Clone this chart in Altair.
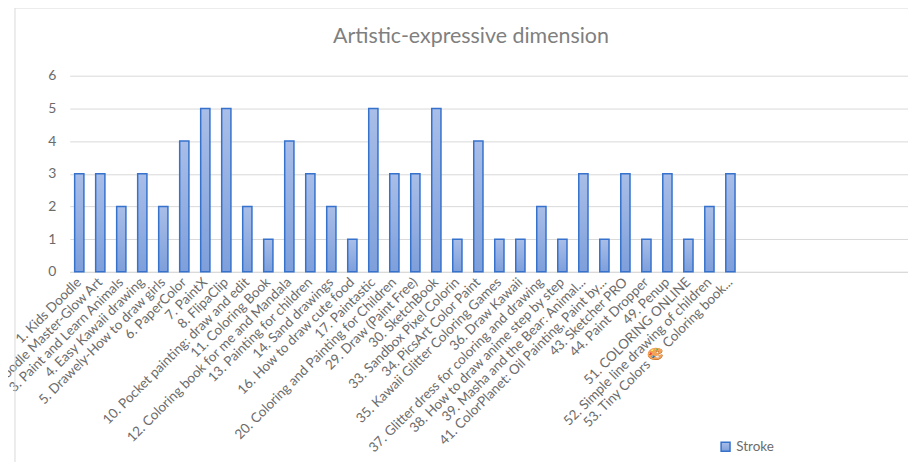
import altair as alt
import pandas as pd

apps = [
    "1. Kids Doodle",
    "2. Doodle Master-Glow Art",
    "3. Paint and Learn Animals",
    "4. Easy Kawaii drawing",
    "5. Drawely-How to draw girls",
    "6. PaperColor",
    "7. PaintX",
    "8. FlipaClip",
    "10. Pocket painting: draw and edit",
    "11. Coloring Book",
    "12. Coloring book for me and Mandala",
    "13. Painting for children",
    "14. Sand drawings",
    "16. How to draw cute food",
    "17. Paintastic",
    "20. Coloring and Painting for Children",
    "29. Draw (Paint Free)",
    "30. SketchBook",
    "33. Sandbox Pixel Colorin",
    "34. PicsArt Color Paint",
    "35. Kawaii Glitter Coloring Games",
    "36. Draw Kawaii",
    "37. Glitter dress for coloring and drawing",
    "38. How to draw anime step by step",
    "39. Masha and the Bear: Animal...",
    "41. ColorPlanet: Oil Painting, Paint by...",
    "43. Sketcher PRO",
    "44. Paint Dropper",
    "49. Penup",
    "51. COLORING ONLINE",
    "52. Simple line drawing of children",
    "53. Tiny Colors \U0001F3A8 Coloring book...",
]
stroke = [3, 3, 2, 3, 2, 4, 5, 5, 2, 1, 4, 3, 2, 1, 5, 3,
          3, 5, 1, 4, 1, 1, 2, 1, 3, 1, 3, 1, 3, 1, 2, 3]
series_name = "Stroke"
y_ticks = [0, 1, 2, 3, 4, 5, 6]

# empty category slots on the right of the category axis (as in the original)
empty_slots = [" " * (i + 1) for i in range(8)]

df = pd.DataFrame({"app": apps, "value": stroke, "series": series_name})

font = "Lato"
label_color = "#6b6b6b"

bar_fill = alt.Gradient(
    gradient="linear",
    stops=[alt.GradientStop(color="#a9bee8", offset=0),
           alt.GradientStop(color="#7e9fdb", offset=1)],
    x1=0, x2=0, y1=0, y2=1,
)

bars = alt.Chart(df).mark_bar(fill=bar_fill, strokeWidth=1.5).encode(
    x=alt.X(
        "app:N",
        sort=None,
        scale=alt.Scale(domain=apps + empty_slots, paddingInner=0.56, paddingOuter=0.235),
        axis=alt.Axis(
            title=None, labelAngle=-45, labelAlign="right", labelBaseline="middle",
            labelOverlap=False, labelLimit=500, ticks=False, labelPadding=8,
            domainColor="#d9d9d9", labelFont=font, labelFontSize=13.5,
            labelColor=label_color, grid=False,
        ),
    ),
    y=alt.Y(
        "value:Q",
        scale=alt.Scale(domain=[0, 6], nice=False),
        axis=alt.Axis(
            title=None, values=y_ticks, ticks=False, domain=False,
            gridColor="#d9d9d9", labelPadding=14, labelFont=font,
            labelFontSize=14, labelColor=label_color,
        ),
    ),
    stroke=alt.Stroke(
        "series:N",
        scale=alt.Scale(domain=[series_name], range=["#3672cc"]),
        legend=alt.Legend(
            title=None, orient="none", legendX=652, legendY=366,
            symbolType="square", symbolSize=80, symbolFillColor="#8eaadf",
            symbolStrokeWidth=1.5, labelFont=font, labelFontSize=13.5,
            labelColor=label_color, labelOffset=4, padding=0,
        ),
    ),
)

frame = alt.Data(values=[{}])
left_border = alt.Chart(frame).mark_rule(color="#d9d9d9", strokeWidth=1).encode(
    x=alt.value(-55), y=alt.value(-68), y2=alt.value(400)
)
top_border = alt.Chart(frame).mark_rule(color="#d9d9d9", strokeWidth=1).encode(
    x=alt.value(-55), x2=alt.value(860), y=alt.value(-68)
)

chart = alt.layer(left_border, top_border, bars).properties(
    width=842,
    height=197,
    autosize=alt.AutoSizeParams(type="none"),
    padding={"left": 62, "top": 67, "right": 0, "bottom": 190},
    title=alt.TitleParams(
        "Artistic-expressive dimension", anchor="middle", frame="group", dx=-18,
        offset=-40, font=font, fontSize=21.5, fontWeight="normal", color="#7f7f7f",
    ),
).configure_view(stroke=None)

chart.save("out.html", embed_options={"renderer": "svg", "actions": False})
